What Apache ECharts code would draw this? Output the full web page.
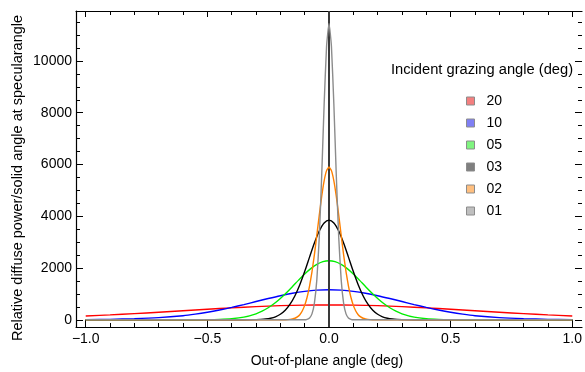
<!DOCTYPE html>
<html>
<head>
<meta charset="utf-8">
<script src="https://cdn.jsdelivr.net/npm/echarts@6/dist/echarts.min.js"></script>
<style>
  html, body { margin: 0; padding: 0; background: #fff; }
  #chart { width: 585px; height: 372px; }
</style>
</head>
<body>
<div id="chart"></div>
<script>
// Scattered power per solid angle vs. out-of-plane angle, one curve per grazing angle
const seriesNames = ['20', '10', '05', '03', '02', '01'];
const lineColors = ['#ff0000', '#0000ff', '#00ee00', '#000000', '#ff8000', '#8c8c8c'];
const swatchColors = ['#f47f7f', '#7f7ff4', '#7ff47f', '#7f7f7f', '#ffbf7f', '#bfbfbf'];

const angle20 = [-1.0, -0.9, -0.8, -0.7, -0.6, -0.5, -0.4, -0.3, -0.2, -0.1, 0, 0.1, 0.2, 0.3, 0.4, 0.5, 0.6, 0.7, 0.8, 0.9, 1.0];
const power20 = [143, 187, 236, 291, 349, 406, 460, 507, 544, 567, 575, 567, 544, 507, 460, 406, 349, 291, 236, 187, 143];

const angle10 = [-1.0, -0.9, -0.8, -0.7, -0.6, -0.55, -0.5, -0.45, -0.4, -0.35, -0.3, -0.25, -0.2, -0.15, -0.1, -0.05, 0, 0.05, 0.1, 0.15, 0.2, 0.25, 0.3, 0.35, 0.4, 0.45, 0.5, 0.55, 0.6, 0.7, 0.8, 0.9, 1.0];
const power10 = [5, 16, 40, 82, 157, 216, 289, 377, 477, 587, 704, 820, 929, 1024, 1097, 1144, 1160, 1144, 1097, 1024, 929, 820, 704, 587, 477, 377, 289, 216, 157, 82, 40, 16, 5];

const angle05 = [-1.0, -0.6, -0.5, -0.45, -0.4, -0.35, -0.3, -0.275, -0.25, -0.225, -0.2, -0.175, -0.15, -0.125, -0.1, -0.075, -0.05, -0.025, 0, 0.025, 0.05, 0.075, 0.1, 0.125, 0.15, 0.175, 0.2, 0.225, 0.25, 0.275, 0.3, 0.35, 0.4, 0.45, 0.5, 0.6, 1.0];
const power05 = [0, 0, 4, 13, 38, 100, 230, 331, 463, 627, 822, 1044, 1284, 1531, 1767, 1975, 2139, 2244, 2280, 2244, 2139, 1975, 1767, 1531, 1284, 1044, 822, 627, 463, 331, 230, 100, 38, 13, 4, 0, 0];

const angle03 = [-1.0, -0.35, -0.3, -0.28, -0.26, -0.24, -0.22, -0.2, -0.18, -0.16, -0.14, -0.12, -0.1, -0.08, -0.06, -0.04, -0.02, 0, 0.02, 0.04, 0.06, 0.08, 0.1, 0.12, 0.14, 0.16, 0.18, 0.2, 0.22, 0.24, 0.26, 0.28, 0.3, 0.35, 1.0];
const power03 = [0, 0, 6, 13, 28, 59, 115, 211, 367, 601, 928, 1354, 1863, 2420, 2965, 3428, 3740, 3850, 3740, 3428, 2965, 2420, 1863, 1354, 928, 601, 367, 211, 115, 59, 28, 13, 6, 0, 0];

const angle02 = [-1.0, -0.2, -0.18, -0.16, -0.15, -0.14, -0.13, -0.12, -0.11, -0.1, -0.09, -0.08, -0.07, -0.06, -0.05, -0.04, -0.03, -0.02, -0.01, 0, 0.01, 0.02, 0.03, 0.04, 0.05, 0.06, 0.07, 0.08, 0.09, 0.1, 0.11, 0.12, 0.13, 0.14, 0.15, 0.16, 0.18, 0.2, 1.0];
const power02 = [0, 0, 3, 14, 29, 58, 109, 196, 338, 555, 870, 1300, 1853, 2519, 3268, 4042, 4769, 5368, 5762, 5900, 5762, 5368, 4769, 4042, 3268, 2519, 1853, 1300, 870, 555, 338, 196, 109, 58, 29, 14, 3, 0, 0];

const angle01 = [-1.0, -0.1, -0.09, -0.08, -0.07, -0.06, -0.05, -0.04, -0.03, -0.02, -0.01, 0, 0.01, 0.02, 0.03, 0.04, 0.05, 0.06, 0.07, 0.08, 0.09, 0.1, 1.0];
const power01 = [0, 0, 18, 68, 227, 643, 1550, 3183, 5575, 8315, 10570, 11450, 10570, 8315, 5575, 3183, 1550, 643, 227, 68, 18, 0, 0];

const xMajorTicks = [-1.0, -0.5, 0.0, 0.5, 1.0];
const xMinorTicks = [-0.9, -0.8, -0.7, -0.6, -0.4, -0.3, -0.2, -0.1, 0.1, 0.2, 0.3, 0.4, 0.6, 0.7, 0.8, 0.9];
const yMajorTicks = [0, 2000, 4000, 6000, 8000, 10000];
const yMinorTicks = [500, 1000, 1500, 2500, 3000, 3500, 4500, 5000, 5500, 6500, 7000, 7500, 8500, 9000, 9500, 10500, 11000, 11500];

const xTitle = 'Out-of-plane angle (deg)';
const yTitle = 'Relative diffuse power/solid angle at specularangle';
const legendTitle = 'Incident grazing angle (deg)';

const FONT = "'Liberation Sans', Arial, Helvetica, sans-serif";
const X_MIN = -1.04, X_MAX = 1.04;
const Y_MIN = -280, Y_MAX = 11930;

const curves = [
  [angle20, power20], [angle10, power10], [angle05, power05],
  [angle03, power03], [angle02, power02], [angle01, power01]
];

function zip(xs, ys) { return xs.map((x, i) => [x, ys[i]]); }

function xAxisDef(position, ticks, len, labels, showLine) {
  return {
    type: 'value', position: position, min: X_MIN, max: X_MAX,
    axisLine: { show: showLine, onZero: false, lineStyle: { color: '#000', width: 1.2 } },
    axisTick: { show: true, inside: true, length: len, customValues: ticks, lineStyle: { color: '#000', width: 1 } },
    axisLabel: labels ? {
      show: true, customValues: labels, margin: 5, color: '#000', fontSize: 14, fontFamily: FONT,
      formatter: v => v.toFixed(1).replace('-', '\u2212')
    } : { show: false },
    splitLine: { show: false }
  };
}

function yAxisDef(position, ticks, len, labels, showLine) {
  return {
    type: 'value', position: position, min: Y_MIN, max: Y_MAX,
    axisLine: { show: showLine, onZero: false, lineStyle: { color: '#000', width: 1.2 } },
    axisTick: { show: true, inside: true, length: len, customValues: ticks, lineStyle: { color: '#000', width: 1 } },
    axisLabel: labels ? {
      show: true, customValues: labels, margin: 4, color: '#000', fontSize: 14, fontFamily: FONT,
      formatter: v => String(Math.round(v))
    } : { show: false },
    splitLine: { show: false }
  };
}

const series = curves.map((c, i) => ({
  name: seriesNames[i],
  type: 'line',
  xAxisIndex: 0,
  yAxisIndex: 0,
  data: zip(c[0], c[1]),
  showSymbol: false,
  smooth: i < 4 ? 0.3 : 0.15,
  lineStyle: { color: lineColors[i], width: 1.4 },
  itemStyle: { color: lineColors[i] },
  z: 2 + i
}));

// vertical reference line at zero angle, drawn over the curves
series[series.length - 1].markLine = {
  silent: true, symbol: 'none', animation: false,
  label: { show: false },
  lineStyle: { color: '#3a3a3a', width: 2, type: 'solid' },
  data: [{ xAxis: 0 }]
};

const option = {
  animation: false,
  backgroundColor: '#fff',
  grid: { left: 76, top: 11, width: 510, height: 316 },
  xAxis: [
    xAxisDef('bottom', xMajorTicks, 7, xMajorTicks, true),
    xAxisDef('bottom', xMinorTicks, 4, null, false),
    xAxisDef('top', xMajorTicks, 6, null, true),
    xAxisDef('top', xMinorTicks, 4, null, false)
  ],
  yAxis: [
    yAxisDef('left', yMajorTicks, 7, yMajorTicks, true),
    yAxisDef('left', yMinorTicks, 4, null, false),
    yAxisDef('right', yMajorTicks, 7, null, false),
    yAxisDef('right', yMinorTicks, 4, null, false)
  ],
  legend: {
    orient: 'vertical', left: 461, top: 89,
    itemWidth: 8, itemHeight: 8, itemGap: 8,
    icon: 'rect',
    selectedMode: false,
    textStyle: { color: '#000', fontSize: 14, fontFamily: FONT, lineHeight: 14, padding: [0, 0, 0, 7] },
    data: seriesNames.map((n, i) => ({
      name: n,
      itemStyle: { color: swatchColors[i], borderColor: '#8c8c8c', borderWidth: 1 }
    }))
  },
  graphic: [
    {
      type: 'text', x: 18, y: 178, rotation: Math.PI / 2,
      style: { text: yTitle, fill: '#000', fontSize: 14.5, fontFamily: FONT, align: 'center', verticalAlign: 'middle' }
    },
    {
      type: 'text', x: 327, y: 361,
      style: { text: xTitle, fill: '#000', fontSize: 14, fontFamily: FONT, align: 'center', verticalAlign: 'middle' }
    },
    {
      type: 'text', x: 391, y: 70,
      style: { text: legendTitle, fill: '#000', fontSize: 14.7, fontFamily: FONT, align: 'left', verticalAlign: 'middle' }
    }
  ],
  series: series
};

const chart = echarts.init(document.getElementById('chart'), null, { renderer: 'canvas' });
chart.setOption(option);
</script>
</body>
</html>
